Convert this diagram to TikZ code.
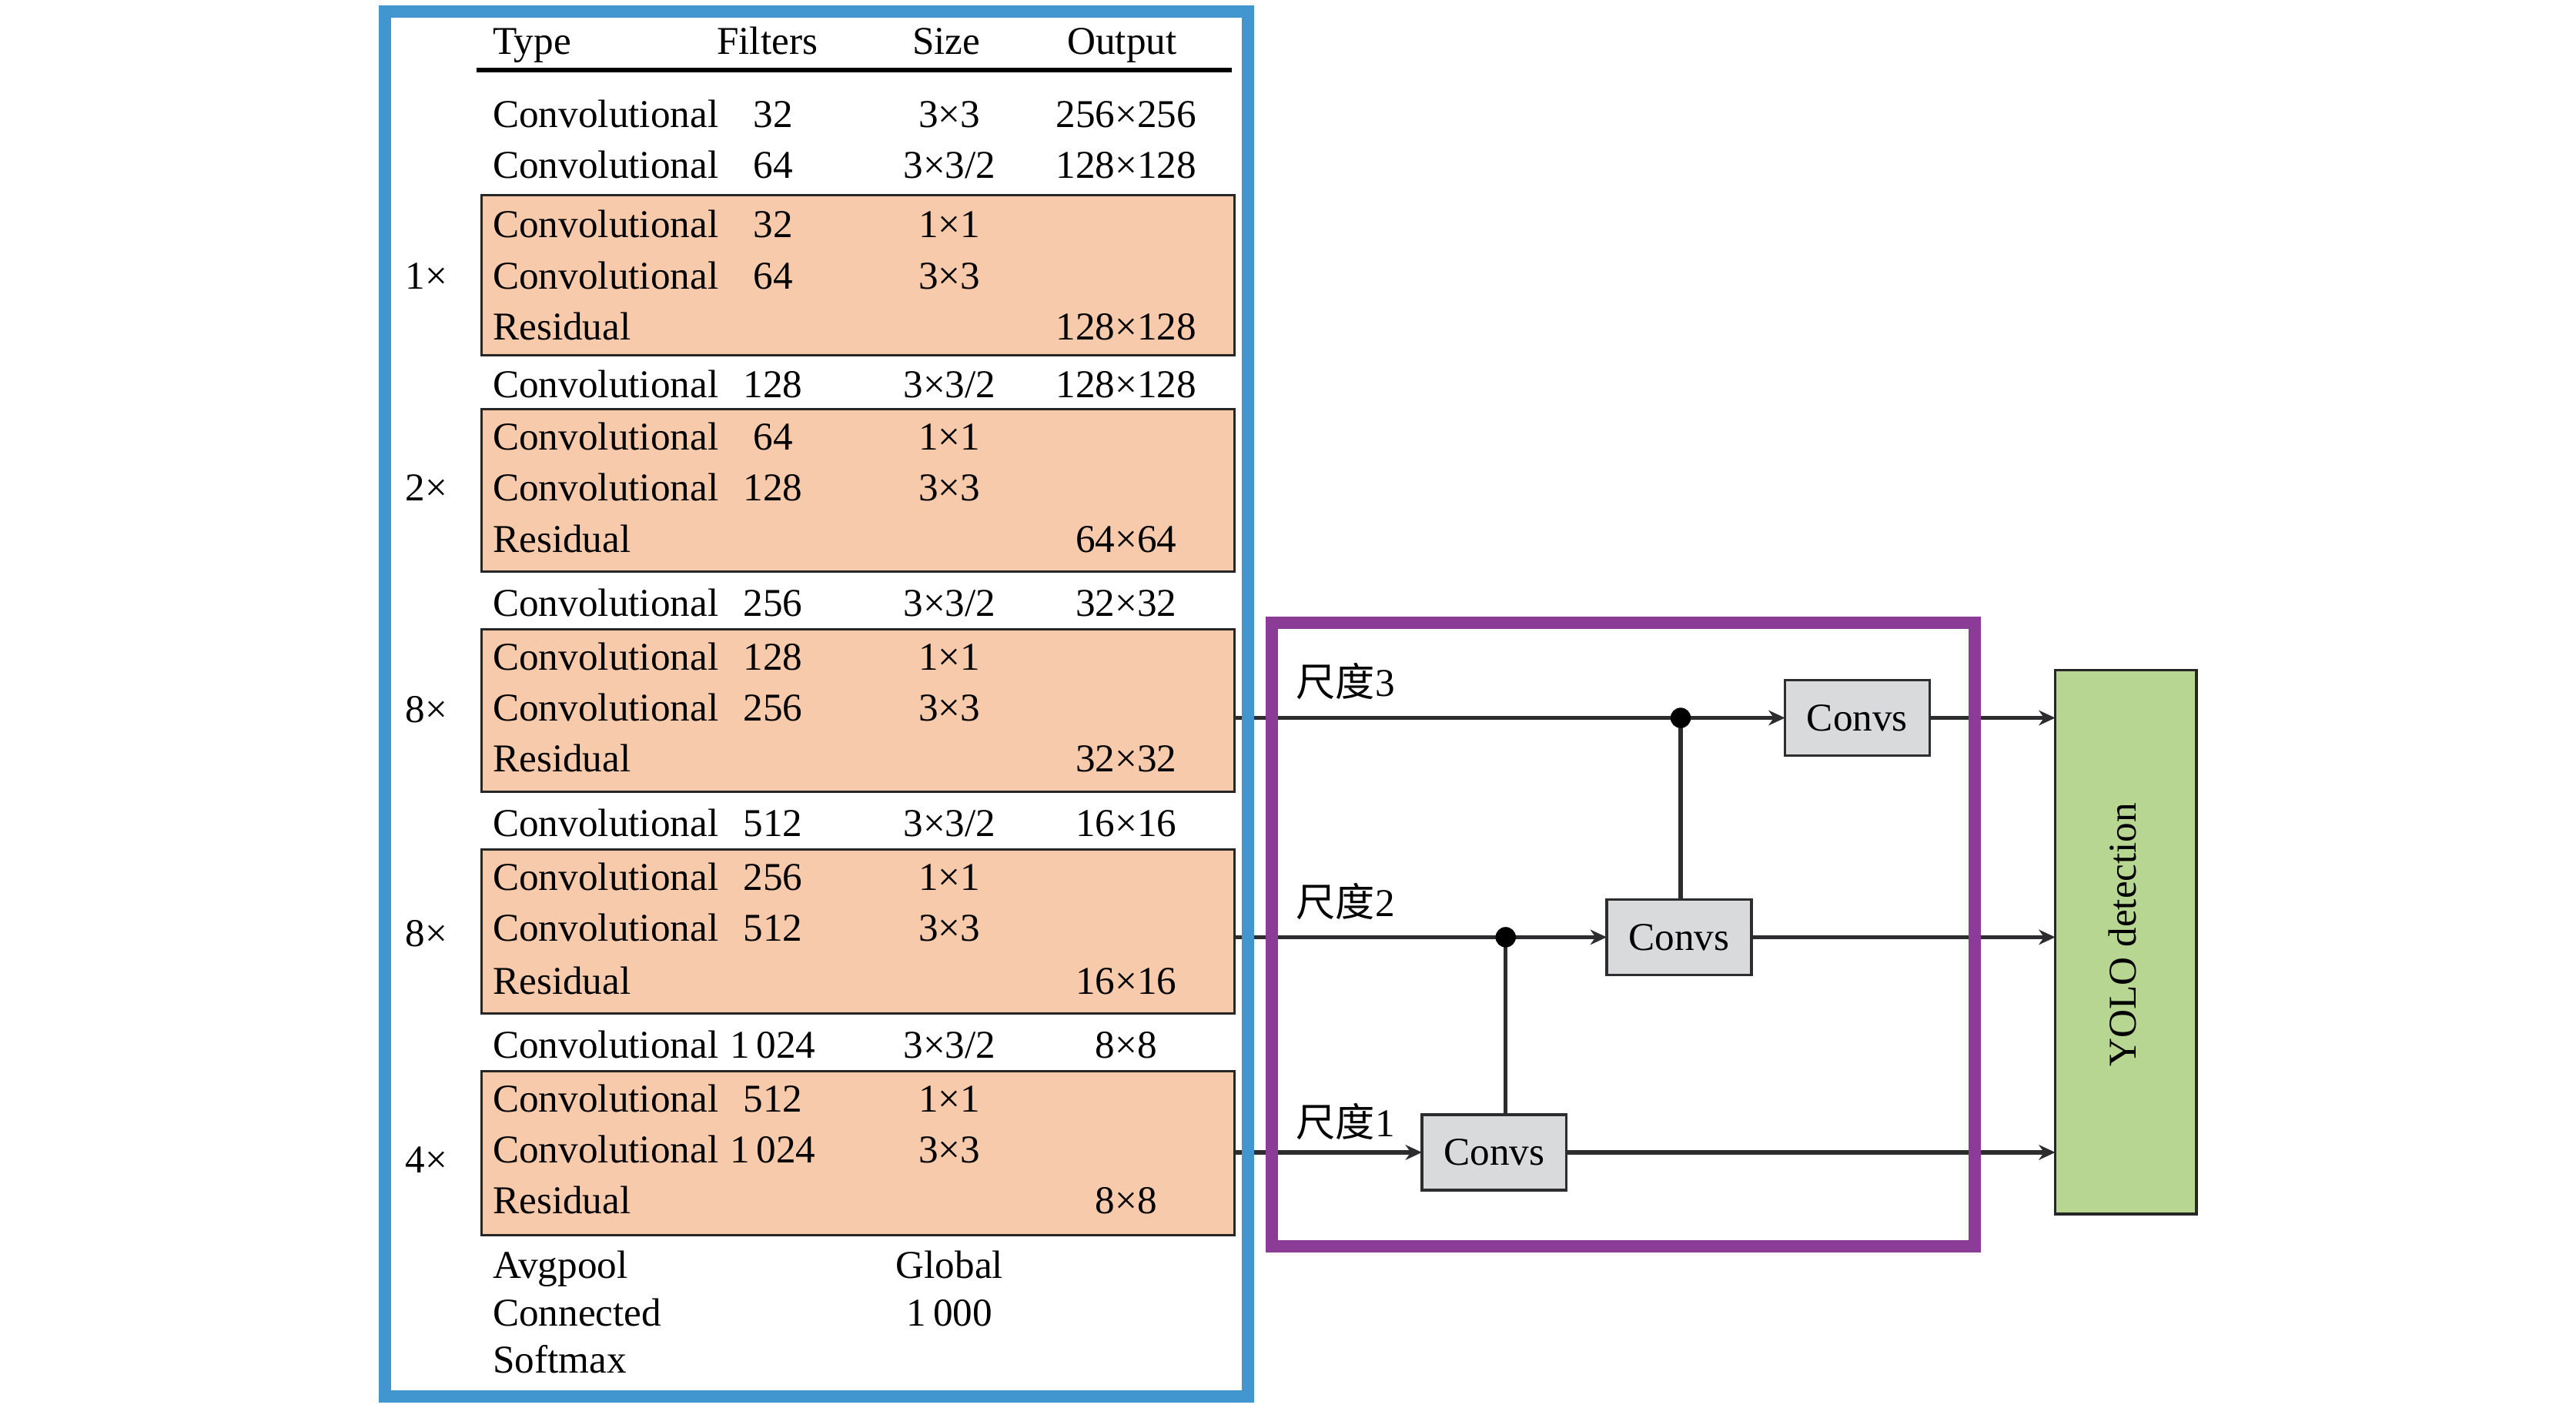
\documentclass[tikz,border=0pt]{standalone}
\usepackage{fontspec}
\setmainfont{Liberation Serif}
\newfontfamily\cjk{Noto Sans CJK SC}
\usetikzlibrary{arrows.meta}
\definecolor{frameblue}{RGB}{66,150,208}
\definecolor{framepurple}{RGB}{138,60,150}
\definecolor{resorange}{RGB}{248,202,172}
\definecolor{convgray}{RGB}{217,218,220}
\definecolor{yologreen}{RGB}{182,214,146}
\definecolor{linegray}{RGB}{45,45,48}
\begin{document}
\begin{tikzpicture}[x=0.5pt, y=-0.5pt,
  txt/.style={inner sep=0pt, outer sep=0pt, font=\fontsize{12}{14}\selectfont},
  cl/.style={txt, anchor=base west},
  cc/.style={txt, anchor=base},
  resbox/.style={draw=black!85, line width=0.7pt, fill=resorange, anchor=north west,
    minimum width=229.25pt, inner sep=0pt, outer sep=0pt},
  convbox/.style={draw=linegray, line width=0.8pt, fill=convgray, minimum width=44pt,
    minimum height=23pt, inner sep=0pt, outer sep=0pt, font=\fontsize{12}{14}\selectfont},
  yolobox/.style={draw=black!85, line width=0.8pt, fill=yologreen, minimum width=43pt,
    minimum height=165.5pt, inner sep=0pt, outer sep=0pt},
  conn/.style={draw=linegray, line width=1.2pt},
  arr/.style={conn, -{Stealth[length=5pt,width=4.6pt,inset=1.6pt]}},
  jdot/.style={circle, fill=black, inner sep=0pt, minimum size=6.2pt},
]
\useasboundingbox (0,0) rectangle (1568,857);

% residual blocks
\node[resbox, minimum height=48.7pt] (res1) at (293,119) {};
\node[resbox, minimum height=49.5pt] (res2) at (293,249) {};
\node[resbox, minimum height=49.5pt] (res3) at (293,383) {};
\node[resbox, minimum height=50pt] (res4) at (293,517) {};
\node[resbox, minimum height=50pt] (res5) at (293,652) {};

% header
\node[cl] (hType) at (300,33) {Type};
\node[cc] (hFilters) at (467,33) {Filters};
\node[cc] (hSize) at (576,33) {Size};
\node[cc] (hOutput) at (683,33) {Output};
\draw[line width=1.4pt] (290,42.8) -- (750,42.8);

% rows
\node[cl] (t1) at (300,77.7) {Convolutional};
\node[cc] (f1) at (470.5,77.7) {32};
\node[cc] (s1) at (578,77.7) {3×3};
\node[cc] (o1) at (685.5,77.7) {256×256};

\node[cl] (t2) at (300,108.6) {Convolutional};
\node[cc] (f2) at (470.5,108.6) {64};
\node[cc] (s2) at (578,108.6) {3×3/2};
\node[cc] (o2) at (685.5,108.6) {128×128};

\node[cl] (t3) at (300,144.5) {Convolutional};
\node[cc] (f3) at (470.5,144.5) {32};
\node[cc] (s3) at (578,144.5) {1×1};

\node[cl] (t4) at (300,175.8) {Convolutional};
\node[cc] (f4) at (470.5,175.8) {64};
\node[cc] (s4) at (578,175.8) {3×3};

\node[cl] (t5) at (300,207) {Residual};
\node[cc] (o5) at (685.5,207) {128×128};

\node[cl] (t6) at (300,242) {Convolutional};
\node[cc] (f6) at (470.5,242) {128};
\node[cc] (s6) at (578,242) {3×3/2};
\node[cc] (o6) at (685.5,242) {128×128};

\node[cl] (t7) at (300,274) {Convolutional};
\node[cc] (f7) at (470.5,274) {64};
\node[cc] (s7) at (578,274) {1×1};

\node[cl] (t8) at (300,305) {Convolutional};
\node[cc] (f8) at (470.5,305) {128};
\node[cc] (s8) at (578,305) {3×3};

\node[cl] (t9) at (300,336) {Residual};
\node[cc] (o9) at (685.5,336) {64×64};

\node[cl] (t10) at (300,375) {Convolutional};
\node[cc] (f10) at (470.5,375) {256};
\node[cc] (s10) at (578,375) {3×3/2};
\node[cc] (o10) at (685.5,375) {32×32};

\node[cl] (t11) at (300,408) {Convolutional};
\node[cc] (f11) at (470.5,408) {128};
\node[cc] (s11) at (578,408) {1×1};

\node[cl] (t12) at (300,439) {Convolutional};
\node[cc] (f12) at (470.5,439) {256};
\node[cc] (s12) at (578,439) {3×3};

\node[cl] (t13) at (300,470) {Residual};
\node[cc] (o13) at (685.5,470) {32×32};

\node[cl] (t14) at (300,509) {Convolutional};
\node[cc] (f14) at (470.5,509) {512};
\node[cc] (s14) at (578,509) {3×3/2};
\node[cc] (o14) at (685.5,509) {16×16};

\node[cl] (t15) at (300,542) {Convolutional};
\node[cc] (f15) at (470.5,542) {256};
\node[cc] (s15) at (578,542) {1×1};

\node[cl] (t16) at (300,573) {Convolutional};
\node[cc] (f16) at (470.5,573) {512};
\node[cc] (s16) at (578,573) {3×3};

\node[cl] (t17) at (300,605) {Residual};
\node[cc] (o17) at (685.5,605) {16×16};

\node[cl] (t18) at (300,644) {Convolutional};
\node[cc] (f18) at (470.5,644) {1\,024};
\node[cc] (s18) at (578,644) {3×3/2};
\node[cc] (o18) at (685.5,644) {8×8};

\node[cl] (t19) at (300,677) {Convolutional};
\node[cc] (f19) at (470.5,677) {512};
\node[cc] (s19) at (578,677) {1×1};

\node[cl] (t20) at (300,708) {Convolutional};
\node[cc] (f20) at (470.5,708) {1\,024};
\node[cc] (s20) at (578,708) {3×3};

\node[cl] (t21) at (300,739) {Residual};
\node[cc] (o21) at (685.5,739) {8×8};

\node[cl] (t22) at (300,778) {Avgpool};
\node[cc] (s22) at (578,778) {Global};

\node[cl] (t23) at (300,807) {Connected};
\node[cc] (s23) at (578,807) {1\,000};

\node[cl] (t24) at (300,836) {Softmax};

% repeat counts
\node[cc] (m1) at (259.5,176) {1×};
\node[cc] (m2) at (259.5,305) {2×};
\node[cc] (m3) at (259.5,440) {8×};
\node[cc] (m4) at (259.5,576) {8×};
\node[cc] (m5) at (259.5,714) {4×};

% scale labels
\node[cl] (lab3) at (789,424) {{\cjk 尺度}3};
\node[cl] (lab2) at (789,557.7) {{\cjk 尺度}2};
\node[cl] (lab1) at (789,692) {{\cjk 尺度}1};

% neck blocks
\node[convbox] (conv3) at (1130.5,437) {Convs};
\node[convbox] (conv2) at (1022,570.5) {Convs};
\node[convbox] (conv1) at (909.5,701.5) {Convs};
\node[yolobox] (yolo) at (1294,573.5) {};
\node[txt, rotate=90] (yolot) at (1292,569) {YOLO detection};

\coordinate (j3) at (1023,437);
\coordinate (j2) at (916.5,570.5);

% connectors
\draw[conn] (res3.east |- j3) -- (j3);
\draw[arr] (j3) -- (conv3.west);
\draw[conn] (j3) -- (j3 |- conv2.north);
\draw[arr] (conv3.east) -- (yolo.west |- conv3.east);

\draw[conn] (res4.east |- j2) -- (j2);
\draw[arr] (j2) -- (conv2.west);
\draw[conn] (j2) -- (j2 |- conv1.north);
\draw[arr] (conv2.east) -- (yolo.west |- conv2.east);

\draw[arr] (res5.east |- conv1.west) -- (conv1.west);
\draw[arr] (conv1.east) -- (yolo.west |- conv1.east);

\node[jdot] (d3) at (j3) {};
\node[jdot] (d2) at (j2) {};

% frames
\draw[frameblue, line width=3.7pt] (234.3,7) rectangle (759.7,850);
\draw[framepurple, line width=3.75pt] (774,379) rectangle (1202,758.7);
\end{tikzpicture}
\end{document}
